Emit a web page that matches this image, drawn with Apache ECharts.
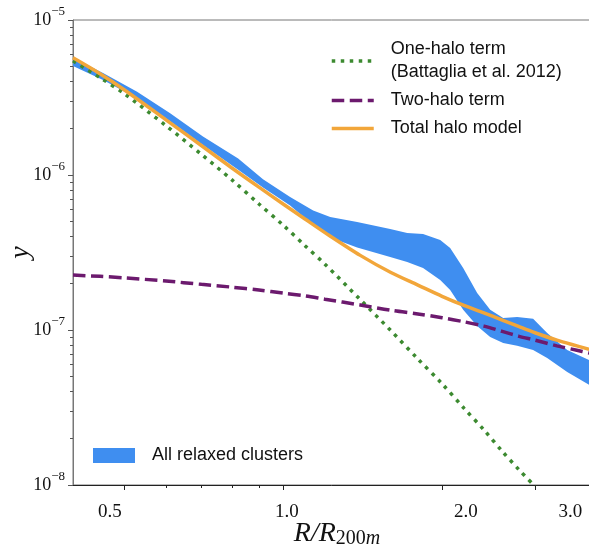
<!DOCTYPE html>
<html>
<head>
<meta charset="utf-8">
<script src="https://cdn.jsdelivr.net/npm/echarts@6.0.0/dist/echarts.min.js"></script>
<style>
  html, body { margin: 0; padding: 0; background: #fff; }
  #chart { width: 589px; height: 551px; }
</style>
</head>
<body>
<div id="chart"></div>
<script>
// model curves, sampled on r = R / R200m
const r = [0.4, 0.45, 0.5, 0.6, 0.7, 0.8, 0.9, 1.0, 1.1, 1.2, 1.4, 1.6, 1.8, 2.0, 2.2, 2.4, 2.6, 2.8, 3.0, 3.3, 3.6, 3.8];
const oneHalo = [5.45e-6, 4.25e-6, 3.35e-6, 2.08e-6, 1.36e-6, 9.3e-7, 6.5e-7, 4.75e-7, 3.5e-7, 2.66e-7, 1.57e-7,
                 9.9e-8, 6.5e-8, 4.5e-8, 3.13e-8, 2.27e-8, 1.65e-8, 1.25e-8, 9.8e-9];
const twoHalo = [2.26e-7, 2.22e-7, 2.17e-7, 2.07e-7, 1.97e-7, 1.89e-7, 1.81e-7, 1.73e-7, 1.66e-7, 1.58e-7, 1.45e-7,
                 1.34e-7, 1.27e-7, 1.2e-7, 1.13e-7, 1.06e-7, 9.8e-8, 9.1e-8, 8.6e-8, 7.9e-8, 7.4e-8, 7.1e-8];
const total = [5.7e-6, 4.5e-6, 3.55e-6, 2.27e-6, 1.55e-6, 1.11e-6, 8.35e-7, 6.5e-7, 5.2e-7, 4.25e-7, 3.03e-7,
               2.35e-7, 1.95e-7, 1.65e-7, 1.44e-7, 1.29e-7, 1.16e-7, 1.05e-7, 9.6e-8, 8.6e-8, 7.9e-8, 7.5e-8];

// measured band (all relaxed clusters)
const bandR = [0.4, 0.456, 0.529, 0.611, 0.705, 0.822, 0.916, 1.031, 1.14, 1.228, 1.381, 1.595, 1.718, 1.841,
               1.984, 2.072, 2.193, 2.331, 2.467, 2.611, 2.775, 2.975, 3.163, 3.452, 3.8];
const bandHi = [5.7e-6, 4.55e-6, 3.45e-6, 2.5e-6, 1.77e-6, 1.28e-6, 9.4e-7, 7.2e-7, 5.9e-7, 5.36e-7, 4.97e-7,
                4.48e-7, 4.22e-7, 4.16e-7, 3.81e-7, 3.38e-7, 2.51e-7, 1.73e-7, 1.35e-7, 1.195e-7, 1.213e-7,
                1.18e-7, 9.56e-8, 7.43e-8, 6.4e-8];
const bandLo = [5.05e-6, 4.1e-6, 3.12e-6, 2.22e-6, 1.56e-6, 1.08e-6, 8.3e-7, 6.35e-7, 4.75e-7, 3.95e-7, 3.4e-7,
                2.96e-7, 2.75e-7, 2.51e-7, 2.1e-7, 1.81e-7, 1.35e-7, 1.06e-7, 9.0e-8, 8.24e-8, 7.9e-8,
                7.43e-8, 6.6e-8, 5.36e-8, 4.42e-8];

// ticks and labels
const xMajorTicks = [0.5, 1, 2, 3];
const xMinorTicks = [0.6, 0.7, 0.8, 0.9];
const xTickLabels = ['0.5', '1.0', '2.0', '3.0'];
const xLabelAt = [0.47, 1.016, 2.22, 3.5];     // where the labels sit in the picture
const yMajorTicks = [1e-8, 1e-7, 1e-6, 1e-5];
const yMinorTicks = [2e-8, 3e-8, 4e-8, 5e-8, 6e-8, 7e-8, 8e-8, 9e-8,
                     2e-7, 3e-7, 4e-7, 5e-7, 6e-7, 7e-7, 8e-7, 9e-7,
                     2e-6, 3e-6, 4e-6, 5e-6, 6e-6, 7e-6, 8e-6, 9e-6];

const ONE_NAME = 'One-halo term\n(Battaglia et al. 2012)';
const TWO_NAME = 'Two-halo term';
const TOT_NAME = 'Total halo model';
const BAND_NAME = 'All relaxed clusters';

const BLUE = '#3f8ef0';
const GREEN = '#3c8a30';
const PURPLE = '#6c1a6e';
const ORANGE = '#f2a63a';
const SERIF = '"Liberation Serif", "DejaVu Serif", serif';
const SANS = '"Liberation Sans", "DejaVu Sans", sans-serif';

const chart = echarts.init(document.getElementById('chart'));

const baseX = {type: 'log', logBase: 10, min: 0.4, max: 4.0, gridIndex: 0, position: 'bottom', splitLine: {show: false}};
const baseY = {type: 'log', logBase: 10, min: 1e-8, max: 1e-5, gridIndex: 0, position: 'left', splitLine: {show: false}};

chart.setOption({
    animation: false,
    backgroundColor: '#fff',
    grid: {
        left: 73, top: 20, width: 528, height: 465,
        outerBoundsMode: 'none', containLabel: false,
        show: true, borderColor: '#777', borderWidth: 1
    },
    legend: [
        {
            data: [ONE_NAME, TWO_NAME, TOT_NAME],
            orient: 'vertical',
            left: 325, top: 33,
            itemWidth: 42, itemHeight: 20, itemGap: 5,
            itemStyle: {opacity: 0},
            lineStyle: {width: 3.5},
            textStyle: {fontFamily: SANS, fontSize: 18, lineHeight: 23, color: '#111', padding: [0, 0, 0, 12]}
        },
        {
            data: [{name: BAND_NAME, icon: 'rect', itemStyle: {color: BLUE}}],
            left: 88, top: 439,
            itemWidth: 42, itemHeight: 15,
            textStyle: {fontFamily: SANS, fontSize: 18, lineHeight: 23, color: '#111', padding: [0, 0, 0, 12]}
        }
    ],
    xAxis: [
        Object.assign({}, baseX, {
            axisLine: {show: true, lineStyle: {color: '#222', width: 1}},
            axisTick: {show: true, customValues: xMajorTicks, length: 5, lineStyle: {color: '#222'}},
            axisLabel: {show: false},
            name: '{i|R/R}{n|200}{m|m}',
            nameLocation: 'middle',
            nameGap: 35,
            nameTextStyle: {
                rich: {
                    i: {fontFamily: SERIF, fontStyle: 'italic', fontSize: 28, lineHeight: 28, color: '#111'},
                    n: {fontFamily: SERIF, fontSize: 20, lineHeight: 20, padding: [10, 0, 0, 0], color: '#111'},
                    m: {fontFamily: SERIF, fontStyle: 'italic', fontSize: 20, lineHeight: 20, padding: [10, 0, 0, 0], color: '#111'}
                }
            }
        }),
        Object.assign({}, baseX, {
            axisLine: {show: false},
            axisTick: {show: true, customValues: xMinorTicks, length: 3, lineStyle: {color: '#222'}},
            axisLabel: {show: false}
        }),
        Object.assign({}, baseX, {
            axisLine: {show: false},
            axisTick: {show: false},
            axisLabel: {
                customValues: xLabelAt,
                margin: 18,
                fontFamily: SERIF, fontSize: 19, color: '#111',
                formatter: v => {
                    const i = xLabelAt.findIndex(a => Math.abs(a - v) < 1e-6);
                    return i < 0 ? '' : xTickLabels[i];
                }
            }
        })
    ],
    yAxis: [
        Object.assign({}, baseY, {
            axisLine: {show: true, lineStyle: {color: '#777', width: 1}},
            axisTick: {show: true, customValues: yMajorTicks, length: 5, lineStyle: {color: '#555'}},
            axisLabel: {
                customValues: yMajorTicks,
                margin: 8,
                formatter: v => '{b|10}{s|\u2212' + Math.round(-Math.log10(v)) + '}',
                rich: {
                    b: {fontFamily: SERIF, fontSize: 18, lineHeight: 18, color: '#111'},
                    s: {fontFamily: SERIF, fontSize: 13, lineHeight: 13, padding: [0, 0, 16, 0], color: '#111'}
                }
            },
            name: 'y',
            nameLocation: 'middle',
            nameRotate: 90,
            nameGap: 38,
            nameMoveOverlap: false,
            nameTextStyle: {fontFamily: SERIF, fontStyle: 'italic', fontSize: 28, color: '#111'}
        }),
        Object.assign({}, baseY, {
            axisLine: {show: false},
            axisTick: {show: true, customValues: yMinorTicks, length: 3, lineStyle: {color: '#555'}},
            axisLabel: {show: false}
        })
    ],
    series: [
        {
            type: 'custom',
            name: BAND_NAME,
            coordinateSystem: 'cartesian2d',
            silent: true,
            z: 1,
            itemStyle: {color: BLUE},
            data: bandR.map((x, i) => [x, bandLo[i], bandHi[i]]),
            encode: {x: 0, y: [1, 2]},
            renderItem(params, api) {
                // the whole band is drawn once, as one polygon
                if (params.dataIndex !== 0) return;
                const pts = [];
                bandR.forEach((x, i) => pts.push(api.coord([x, bandHi[i]])));
                for (let i = bandR.length - 1; i >= 0; i--) {
                    pts.push(api.coord([bandR[i], bandLo[i]]));
                }
                return {type: 'polygon', shape: {points: pts}, style: {fill: BLUE}};
            }
        },
        {
            type: 'line',
            name: ONE_NAME,
            data: oneHalo.map((y, i) => [r[i], y]),
            symbol: 'none',
            smooth: 0.3,
            z: 3,
            lineStyle: {color: GREEN, width: 3.5, type: [3.5, 5.5]},
            itemStyle: {color: GREEN}
        },
        {
            type: 'line',
            name: TWO_NAME,
            data: twoHalo.map((y, i) => [r[i], y]),
            symbol: 'none',
            smooth: 0.3,
            z: 4,
            lineStyle: {color: PURPLE, width: 3.5, type: [12.5, 5.5]},
            itemStyle: {color: PURPLE}
        },
        {
            type: 'line',
            name: TOT_NAME,
            data: total.map((y, i) => [r[i], y]),
            symbol: 'none',
            smooth: 0.3,
            z: 5,
            lineStyle: {color: ORANGE, width: 3.5},
            itemStyle: {color: ORANGE}
        }
    ]
});
</script>
</body>
</html>
